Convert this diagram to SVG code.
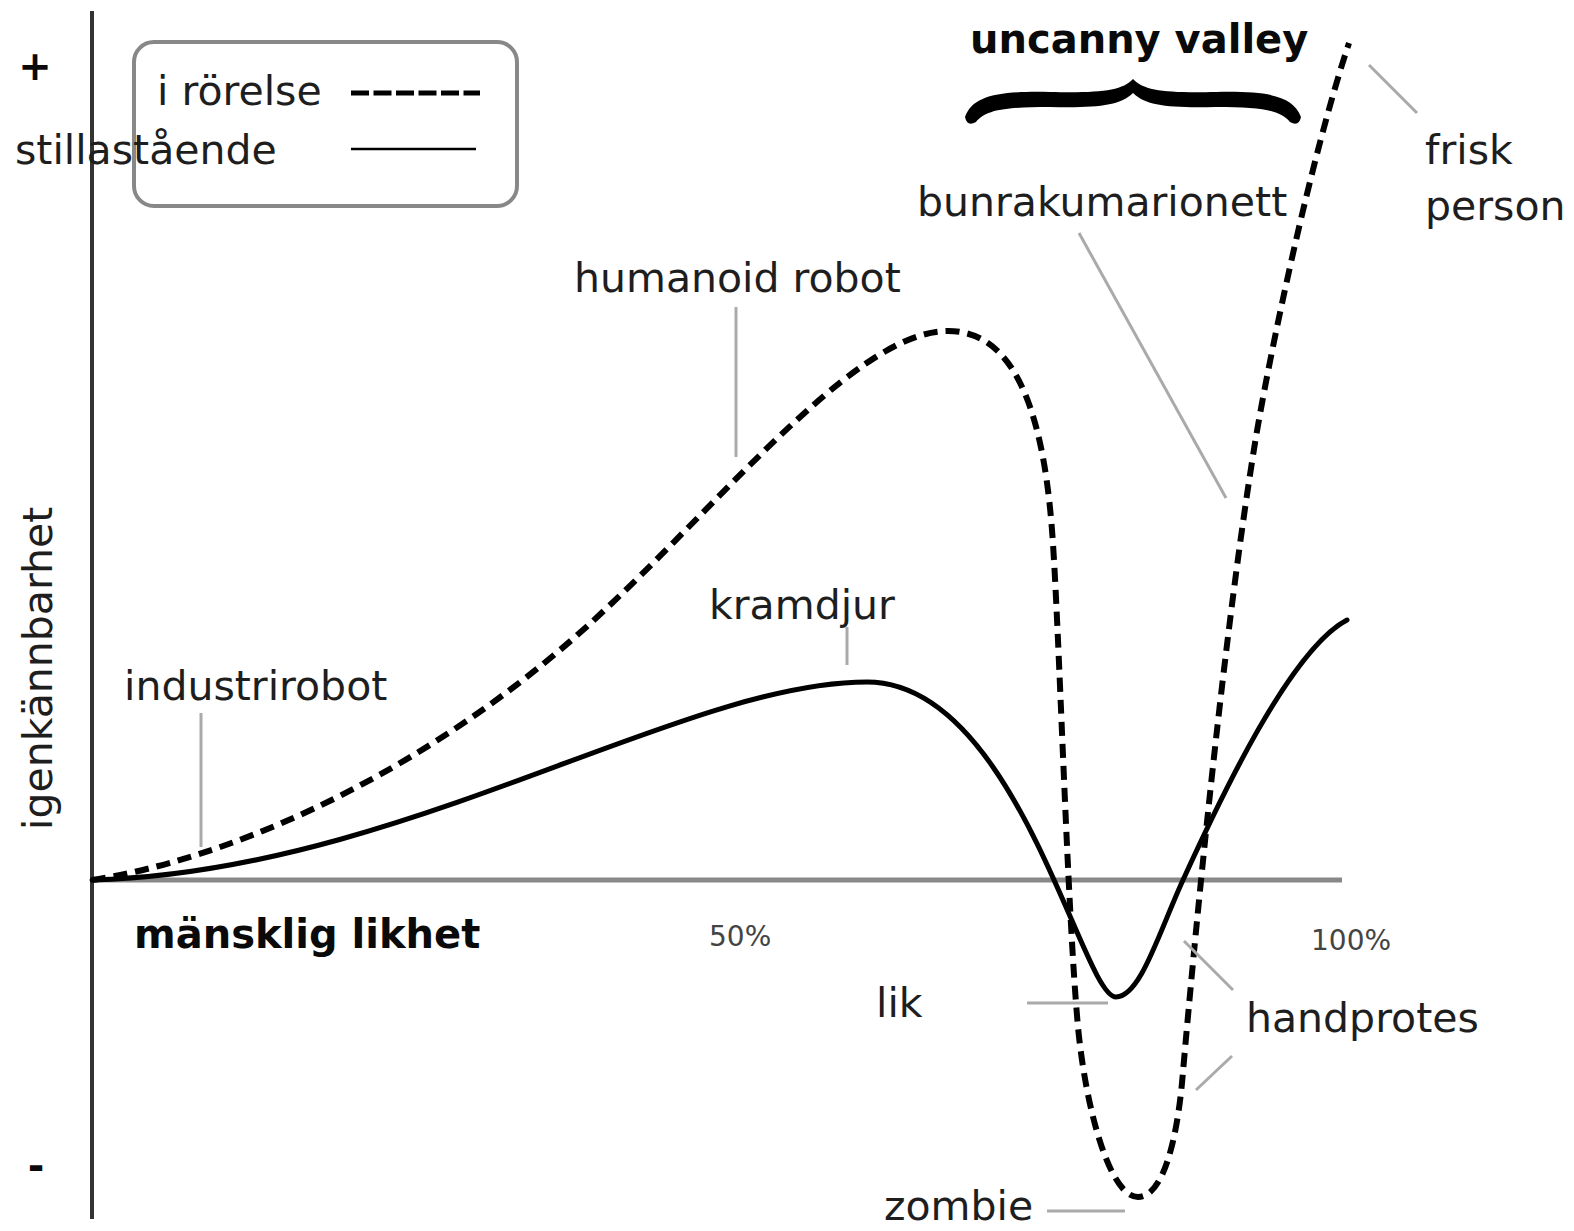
<svg xmlns="http://www.w3.org/2000/svg" width="1574" height="1231" viewBox="0 0 1574 1231">
  <style>
    .t { font-family: "DejaVu Sans", "Liberation Sans", sans-serif; font-size: 41px; fill: #1e1e1e; }
    .b { font-family: "DejaVu Sans", "Liberation Sans", sans-serif; font-weight: bold; font-size: 40px; fill: #0a0a0a; }
    .pct { font-family: "DejaVu Sans", "Liberation Sans", sans-serif; font-size: 28px; fill: #444; }
    .lead { stroke: #aaa; stroke-width: 3; fill: none; }
    .moving { stroke: #000; stroke-width: 6; fill: none; stroke-dasharray: 14 8; }
    .still { stroke: #000; stroke-width: 5; fill: none; stroke-linecap: round; }
  </style>
  <rect width="1574" height="1231" fill="#fff"/>

  <g id="axes">
    <line x1="92" y1="880" x2="1342" y2="880" stroke="#888" stroke-width="5"/>
    <line x1="92" y1="11" x2="92" y2="1219" stroke="#333" stroke-width="4"/>
  </g>

  <g id="legend">
    <rect x="134" y="42" width="383" height="164" rx="20" ry="20" fill="none" stroke="#888" stroke-width="4"/>
    <line x1="351" y1="93" x2="480" y2="93" stroke="#000" stroke-width="5" stroke-dasharray="18 4.5"/>
    <line x1="351" y1="149" x2="476" y2="149" stroke="#000" stroke-width="2.5"/>
    <text class="t" x="157" y="105">i rörelse</text>
    <text class="t" x="15" y="164">stillastående</text>
  </g>

  <g id="curves">
    <path id="curve-moving" class="moving" d="M92,880 C222,860 400,785 560,650 C700,532 848,331 948,331 C1010,331 1042,400 1052,530 C1059,620 1067,907 1078,1027 C1086,1110 1110,1197 1138,1197 C1162,1197 1176,1145 1182,1083 C1198,900 1225,628 1255,443 C1269,357 1311,157 1349,43"/>
    <path id="curve-still" class="still" d="M92,880 C400,872 680,682 867,682 C1017,682 1082,997 1116,997 C1140,997 1158,935 1183,880 C1220,799 1290,650 1347,620"/>
  </g>

  <g id="connectors">
    <line class="lead" x1="1369" y1="65" x2="1417" y2="113"/>
    <line class="lead" x1="1079" y1="233" x2="1226" y2="498"/>
    <line class="lead" x1="736" y1="307" x2="736" y2="457"/>
    <line class="lead" x1="847" y1="627" x2="847" y2="665"/>
    <line class="lead" x1="201" y1="713" x2="201" y2="847"/>
    <line class="lead" x1="1027" y1="1003" x2="1108" y2="1003"/>
    <line class="lead" x1="1184" y1="941" x2="1233" y2="990"/>
    <line class="lead" x1="1232" y1="1056" x2="1196" y2="1090"/>
    <line class="lead" x1="1047" y1="1211" x2="1125" y2="1211"/>
  </g>

  <g id="brace">
    <path fill="#000" d="M965,117 C973,95 1000,91 1050,92 C1100,93 1122,91 1133,79 C1144,91 1166,93 1216,92 C1266,91 1293,95 1301,117 Q1299,127 1290,122 C1280,110 1262,107 1216,107 C1170,108 1146,106 1133,93 C1120,106 1096,108 1050,107 C1004,107 986,110 976,122 Q967,127 965,117 Z"/>
  </g>

  <g id="node-plus"><text class="b" x="35" y="80" font-size="28" text-anchor="middle">+</text></g>
  <g id="node-minus"><text class="b" x="36" y="1180" font-size="56" text-anchor="middle">-</text></g>
  <g id="node-uncanny"><text class="b" x="970" y="53">uncanny valley</text></g>
  <g id="node-frisk"><text class="t" x="1425" y="164">frisk</text><text class="t" x="1425" y="220">person</text></g>
  <g id="node-bunraku"><text class="t" x="917" y="216">bunrakumarionett</text></g>
  <g id="node-humanoid"><text class="t" x="574" y="292">humanoid robot</text></g>
  <g id="node-kramdjur"><text class="t" x="709" y="619">kramdjur</text></g>
  <g id="node-industri"><text class="t" x="124" y="700">industrirobot</text></g>
  <g id="node-yaxis"><text class="t" transform="translate(52,830) rotate(-90)">igenkännbarhet</text></g>
  <g id="node-xaxis"><text class="b" x="134" y="948">mänsklig likhet</text></g>
  <g id="node-50"><text class="pct" x="709" y="946">50%</text></g>
  <g id="node-100"><text class="pct" x="1311" y="950">100%</text></g>
  <g id="node-lik"><text class="t" x="876" y="1017">lik</text></g>
  <g id="node-handprotes"><text class="t" x="1246" y="1032">handprotes</text></g>
  <g id="node-zombie"><text class="t" x="884" y="1220">zombie</text></g>
</svg>
